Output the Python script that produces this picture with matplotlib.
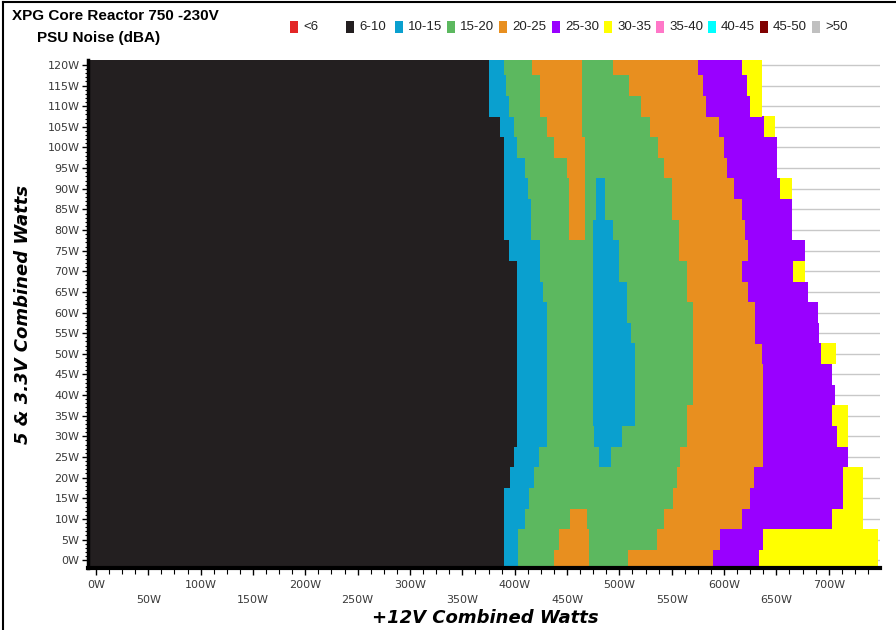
import numpy as np
import matplotlib
matplotlib.use("Agg")
import matplotlib.pyplot as plt
from matplotlib.patches import Rectangle
from matplotlib.lines import Line2D

# 5 & 3.3V load rows (W)
rows = np.arange(0, 125, 5)

# right edge (in +12V watts) of each noise band, per row
black_end = [390, 390, 390, 390, 396, 399, 402, 402, 402, 402, 402, 402, 402,
             402, 402, 395, 390, 390, 390, 390, 390, 386, 375, 375, 375]
blue_end = [403, 403, 410, 414, 418, 423, 431, 431, 431, 431, 431, 431, 431,
            427, 424, 424, 416, 416, 413, 410, 402, 399, 395, 392, 390]
green_end = [508, 536, 543, 551, 555, 558, 565, 565, 570, 570, 570, 570, 570,
             565, 565, 557, 557, 550, 550, 543, 537, 529, 521, 509, 494]
orange_end = [589, 596, 617, 625, 629, 637, 637, 637, 637, 637, 636, 630, 630,
              623, 617, 623, 620, 617, 610, 603, 600, 595, 583, 580, 575]
purple_end = [633, 637, 703, 714, 714, 718, 708, 703, 706, 703, 693, 691, 690,
              680, 666, 677, 665, 665, 653, 651, 651, 638, 625, 622, 617]
yellow_end = [747, 747, 733, 733, 733, 718, 718, 718, 706, 703, 707, 691, 690,
              680, 677, 677, 665, 665, 665, 651, 651, 649, 636, 636, 636]

# islands inside the green band (nan = absent)
nan = np.nan
orange_isl_lo = [438, 442, 453, nan, nan, nan, nan, nan, nan, nan, nan, nan, nan,
                 nan, nan, nan, 452, 452, 452, 450, 438, 431, 424, 424, 417]
orange_isl_hi = [471, 471, 469, nan, nan, nan, nan, nan, nan, nan, nan, nan, nan,
                 nan, nan, nan, 467, 467, 467, 467, 467, 464, 464, 464, 464]
blue_isl_lo = [nan, nan, nan, nan, nan, 481, 476, 475, 475, 475, 475, 475, 475,
               475, 475, 475, 475, 478, 478, nan, nan, nan, nan, nan, nan]
blue_isl_hi = [nan, nan, nan, nan, nan, 492, 503, 515, 515, 515, 515, 511, 507,
               507, 500, 500, 494, 486, 486, nan, nan, nan, nan, nan, nan]

legend_labels = ['<6', '6-10', '10-15', '15-20', '20-25', '25-30', '30-35',
                 '35-40', '40-45', '45-50', '>50']
legend_colors = ['#e32626', '#231f20', '#0aa0cf', '#5cb85f', '#e88f1f', '#9900ff',
                 '#ffff00', '#ff77c8', '#00ffff', '#800000', '#c0c0c0']
c = dict(zip(legend_labels, legend_colors))

narrow = ['Liberation Sans Narrow', 'Liberation Sans', 'DejaVu Sans']
x_min = -7.6

fig = plt.figure(figsize=(8.96, 6.3), dpi=100)
ax = fig.add_axes([88 / 896, 62 / 630, 792 / 896, 508 / 630])

def band(lo, hi, color):
    lo = np.asarray(lo, dtype=float)
    hi = np.asarray(hi, dtype=float)
    m = ~np.isnan(lo) & ~np.isnan(hi)
    ax.barh(rows[m], hi[m] - lo[m], left=lo[m], height=5.02, color=color,
            linewidth=0, antialiased=False, zorder=2)

band(np.full(len(rows), x_min), black_end, c['6-10'])
band(black_end, blue_end, c['10-15'])
band(blue_end, green_end, c['15-20'])
band(green_end, orange_end, c['20-25'])
band(orange_end, purple_end, c['25-30'])
band(purple_end, yellow_end, c['30-35'])
band(orange_isl_lo, orange_isl_hi, c['20-25'])
band(blue_isl_lo, blue_isl_hi, c['10-15'])

ax.set_xlim(x_min, 749)
ax.set_ylim(-1.9, 121.2)

# axes look
for s in ['top', 'right']:
    ax.spines[s].set_visible(False)
ax.spines['left'].set_linewidth(2.5)
ax.spines['bottom'].set_linewidth(3)
ax.spines['left'].set_zorder(5)
ax.spines['bottom'].set_zorder(5)

ax.set_yticks(rows)
ax.set_yticklabels([f'{v}W' for v in rows])
ax.set_yticks(np.arange(0, 121, 1), minor=True)
ax.yaxis.grid(True, color='#c8c8c8', linewidth=1, zorder=0)
ax.set_axisbelow(True)

xt = np.arange(0, 701, 50)
ax.set_xticks(xt)
ax.set_xticklabels([f'{v}W' if v % 100 == 0 else f'\n{v}W' for v in xt],
                   linespacing=1.6)
ax.set_xticks(np.arange(0, 750, 12.5), minor=True)

ax.tick_params(axis='y', which='major', length=4, width=1, labelsize=8,
               labelcolor='#3a3a3a', pad=2)
ax.tick_params(axis='y', which='minor', length=2, width=0.8)
ax.tick_params(axis='x', which='major', length=5, width=1, labelsize=8,
               labelcolor='#3a3a3a', pad=4)
ax.tick_params(axis='x', which='minor', length=4, width=0.8)

ax.set_xlabel('+12V Combined Watts', fontsize=13, fontweight='bold',
              fontstyle='italic', labelpad=0)
ax.xaxis.set_label_coords(0.502, -0.08)
ax.set_ylabel('5 & 3.3V Combined Watts', fontsize=13, fontweight='bold',
              fontstyle='italic')
ax.yaxis.set_label_coords(-0.071, 0.5)

# title
fig.text(12 / 896, 1 - 16 / 630, 'XPG Core Reactor 750 -230V', fontsize=11,
         fontweight='bold', va='center', ha='left', family=narrow)
fig.text(37 / 896, 1 - 38 / 630, 'PSU Noise (dBA)', fontsize=11,
         fontweight='bold', va='center', ha='left', family=narrow)

# legend
lx = [290, 346, 395, 447, 499, 552, 604, 656, 708, 760, 812]
for x0, lab, col in zip(lx, legend_labels, legend_colors):
    fig.patches.append(Rectangle((x0 / 896, 1 - 33 / 630), 8 / 896, 12 / 630,
                                 transform=fig.transFigure, facecolor=col,
                                 edgecolor='none'))
    fig.text((x0 + 13) / 896, 1 - 27 / 630, lab, fontsize=9.5, va='center',
             ha='left', color='#222222', family=narrow)

# outer frame (left and top)
fig.add_artist(Line2D([3 / 896, 3 / 896], [0, 1 - 2 / 630], color='black',
                      linewidth=1.5, transform=fig.transFigure))
fig.add_artist(Line2D([3 / 896, 1], [1 - 2 / 630, 1 - 2 / 630], color='black',
                      linewidth=1.5, transform=fig.transFigure))

fig.savefig('out.png', dpi=100)
